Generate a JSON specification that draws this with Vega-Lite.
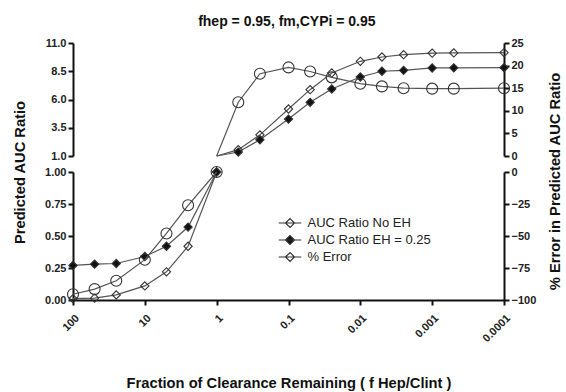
{
  "$schema": "https://vega.github.io/schema/vega-lite/v6.json",
  "background": "white",
  "padding": {"left": 12, "top": 15, "right": 2, "bottom": 5},
  "title": {"text": "fhep = 0.95, fm,CYPi = 0.95", "font": "Liberation Sans", "fontSize": 14, "fontWeight": "bold", "color": "#111", "anchor": "middle", "offset": 8},
  "data": {"values": [
    {"x": 100, "s": "AUC Ratio No EH", "v": 0.01},
    {"x": 50, "s": "AUC Ratio No EH", "v": 0.015},
    {"x": 25, "s": "AUC Ratio No EH", "v": 0.04},
    {"x": 10, "s": "AUC Ratio No EH", "v": 0.11},
    {"x": 5, "s": "AUC Ratio No EH", "v": 0.22},
    {"x": 2.5, "s": "AUC Ratio No EH", "v": 0.42},
    {"x": 1, "s": "AUC Ratio No EH", "v": 1.0},
    {"x": 0.5, "s": "AUC Ratio No EH", "v": 1.56},
    {"x": 0.25, "s": "AUC Ratio No EH", "v": 2.87},
    {"x": 0.1, "s": "AUC Ratio No EH", "v": 5.16},
    {"x": 0.05, "s": "AUC Ratio No EH", "v": 6.87},
    {"x": 0.025, "s": "AUC Ratio No EH", "v": 8.35},
    {"x": 0.01, "s": "AUC Ratio No EH", "v": 9.38},
    {"x": 0.005, "s": "AUC Ratio No EH", "v": 9.76},
    {"x": 0.0025, "s": "AUC Ratio No EH", "v": 9.97},
    {"x": 0.001, "s": "AUC Ratio No EH", "v": 10.1},
    {"x": 0.0005, "s": "AUC Ratio No EH", "v": 10.12},
    {"x": 0.0001, "s": "AUC Ratio No EH", "v": 10.15},
    {"x": 100, "s": "AUC Ratio EH = 0.25", "v": 0.27},
    {"x": 50, "s": "AUC Ratio EH = 0.25", "v": 0.28},
    {"x": 25, "s": "AUC Ratio EH = 0.25", "v": 0.285},
    {"x": 10, "s": "AUC Ratio EH = 0.25", "v": 0.34},
    {"x": 5, "s": "AUC Ratio EH = 0.25", "v": 0.42},
    {"x": 2.5, "s": "AUC Ratio EH = 0.25", "v": 0.57},
    {"x": 1, "s": "AUC Ratio EH = 0.25", "v": 1.0},
    {"x": 0.5, "s": "AUC Ratio EH = 0.25", "v": 1.35},
    {"x": 0.25, "s": "AUC Ratio EH = 0.25", "v": 2.44},
    {"x": 0.1, "s": "AUC Ratio EH = 0.25", "v": 4.27},
    {"x": 0.05, "s": "AUC Ratio EH = 0.25", "v": 5.75},
    {"x": 0.025, "s": "AUC Ratio EH = 0.25", "v": 6.93},
    {"x": 0.01, "s": "AUC Ratio EH = 0.25", "v": 7.99},
    {"x": 0.005, "s": "AUC Ratio EH = 0.25", "v": 8.5},
    {"x": 0.0025, "s": "AUC Ratio EH = 0.25", "v": 8.58},
    {"x": 0.001, "s": "AUC Ratio EH = 0.25", "v": 8.79},
    {"x": 0.0005, "s": "AUC Ratio EH = 0.25", "v": 8.8},
    {"x": 0.0001, "s": "AUC Ratio EH = 0.25", "v": 8.82},
    {"x": 100, "s": "% Error", "v": -95.5},
    {"x": 50, "s": "% Error", "v": -91.5},
    {"x": 25, "s": "% Error", "v": -85},
    {"x": 10, "s": "% Error", "v": -68.5},
    {"x": 5, "s": "% Error", "v": -48},
    {"x": 2.5, "s": "% Error", "v": -26},
    {"x": 1, "s": "% Error", "v": 0},
    {"x": 0.5, "s": "% Error", "v": 11.9},
    {"x": 0.25, "s": "% Error", "v": 18.2},
    {"x": 0.1, "s": "% Error", "v": 19.6},
    {"x": 0.05, "s": "% Error", "v": 18.7},
    {"x": 0.025, "s": "% Error", "v": 17.4},
    {"x": 0.01, "s": "% Error", "v": 16.0},
    {"x": 0.005, "s": "% Error", "v": 15.4},
    {"x": 0.0025, "s": "% Error", "v": 15.0},
    {"x": 0.001, "s": "% Error", "v": 14.9},
    {"x": 0.0005, "s": "% Error", "v": 14.9},
    {"x": 0.0001, "s": "% Error", "v": 15.0}
  ]},
  "bounds": "flush",
  "spacing": 16,
  "resolve": {"scale": {"y": "independent"}},
  "vconcat": [
    {
      "width": 431,
      "height": 113,
      "resolve": {"scale": {"y": "independent"}},
      "layer": [
        {
          "transform": [{"filter": "datum.x <= 1 && datum.s != '% Error'"}],
          "encoding": {
            "x": {"field": "x", "type": "quantitative", "scale": {"type": "log", "domain": [0.0001, 100], "reverse": true}, "axis": null},
            "y": {"field": "v", "type": "quantitative", "scale": {"domain": [1, 11]},
              "axis": {"orient": "left", "values": [1, 3.5, 6, 8.5, 11], "format": ".1f", "title": "Predicted  AUC Ratio", "titleX": -46, "titleY": 129, "titleAngle": 270, "titleBaseline": "bottom", "titleAlign": "center"}}
          },
          "layer": [
            {"mark": {"type": "line", "color": "#555", "strokeWidth": 1.2}, "encoding": {"detail": {"field": "s"}}},
            {"transform": [{"filter": "datum.x < 1"}],
             "mark": {"type": "point", "shape": "M-0.75,0L0,-0.75L0.75,0L0,0.75Z", "stroke": "#333", "strokeWidth": 1.1, "opacity": 1, "size": 121},
             "encoding": {
               "fill": {"field": "s", "type": "nominal", "scale": {"domain": ["AUC Ratio No EH", "AUC Ratio EH = 0.25", "% Error"], "range": ["transparent", "#111", "transparent"]},
                 "legend": {"title": null, "orient": "none", "legendX": 207, "legendY": 170, "symbolSize": 324, "symbolType": "M-1.25,0L1.25,0M-0.5,0L0,-0.5L0.5,0L0,0.5Z", "symbolStrokeColor": "#333", "symbolStrokeWidth": 1.2, "padding": 0, "rowPadding": -2, "labelOffset": 7.5, "labelFont": "Liberation Sans", "labelFontSize": 13, "labelColor": "#222", "symbolOpacity": 1}}
             }}
          ]
        },
        {
          "transform": [{"filter": "datum.x <= 1 && datum.s == '% Error'"}],
          "encoding": {
            "x": {"field": "x", "type": "quantitative", "scale": {"type": "log", "domain": [0.0001, 100], "reverse": true}, "axis": null},
            "y": {"field": "v", "type": "quantitative", "scale": {"domain": [0, 25]},
              "axis": {"orient": "right", "values": [0, 5, 10, 15, 20, 25], "title": "%  Error in Predicted  AUC Ratio", "titleX": 58, "titleY": 138, "titleAngle": 270, "titleBaseline": "bottom", "titleAlign": "center"}}
          },
          "layer": [
            {"mark": {"type": "line", "color": "#555", "strokeWidth": 1.2}, "encoding": {"detail": {"field": "s"}}},
            {"transform": [{"filter": "datum.x < 1"}],
             "mark": {"type": "point", "shape": "circle", "stroke": "#333", "strokeWidth": 1.1, "opacity": 1, "size": 121},
             "encoding": {
               "fill": {"field": "s", "type": "nominal",
                 "legend": {"title": null, "orient": "none", "legendX": 207, "legendY": 170, "symbolSize": 324, "symbolType": "M-1.25,0L1.25,0M-0.5,0L0,-0.5L0.5,0L0,0.5Z", "symbolStrokeColor": "#333", "symbolStrokeWidth": 1.2, "padding": 0, "rowPadding": -2, "labelOffset": 7.5, "labelFont": "Liberation Sans", "labelFontSize": 13, "labelColor": "#222", "symbolOpacity": 1}}
             }}
          ]
        }
      ]
    },
    {
      "width": 431,
      "height": 128,
      "resolve": {"scale": {"y": "independent"}},
      "layer": [
        {
          "transform": [{"filter": "datum.x >= 1 && datum.s != '% Error'"}],
          "encoding": {
            "x": {"field": "x", "type": "quantitative", "scale": {"type": "log", "domain": [0.0001, 100], "reverse": true},
              "axis": {"values": [100, 10, 1, 0.1, 0.01, 0.001, 0.0001], "labelExpr": "format(datum.value, '~g')", "labelAngle": -45, "labelPadding": 7, "title": "Fraction of Clearance Remaining ( f Hep/Clint )", "titlePadding": 32}},
            "y": {"field": "v", "type": "quantitative", "scale": {"domain": [0, 1]},
              "axis": {"orient": "left", "values": [0, 0.25, 0.5, 0.75, 1], "format": ".2f", "title": null}}
          },
          "layer": [
            {"mark": {"type": "line", "color": "#555", "strokeWidth": 1.2}, "encoding": {"detail": {"field": "s"}}},
            {"mark": {"type": "point", "shape": "M-0.75,0L0,-0.75L0.75,0L0,0.75Z", "stroke": "#333", "strokeWidth": 1.1, "opacity": 1, "size": 121},
             "encoding": {
               "fill": {"field": "s", "type": "nominal",
                 "legend": {"title": null, "orient": "none", "legendX": 207, "legendY": 170, "symbolSize": 324, "symbolType": "M-1.25,0L1.25,0M-0.5,0L0,-0.5L0.5,0L0,0.5Z", "symbolStrokeColor": "#333", "symbolStrokeWidth": 1.2, "padding": 0, "rowPadding": -2, "labelOffset": 7.5, "labelFont": "Liberation Sans", "labelFontSize": 13, "labelColor": "#222", "symbolOpacity": 1}}
             }}
          ]
        },
        {
          "transform": [{"filter": "datum.x >= 1 && datum.s == '% Error'"}],
          "encoding": {
            "x": {"field": "x", "type": "quantitative", "scale": {"type": "log", "domain": [0.0001, 100], "reverse": true}},
            "y": {"field": "v", "type": "quantitative", "scale": {"domain": [-100, 0]},
              "axis": {"orient": "right", "values": [-100, -75, -50, -25, 0], "title": null}}
          },
          "layer": [
            {"mark": {"type": "line", "color": "#555", "strokeWidth": 1.2}, "encoding": {"detail": {"field": "s"}}},
            {"mark": {"type": "point", "shape": "circle", "stroke": "#333", "strokeWidth": 1.1, "opacity": 1, "size": 121},
             "encoding": {
               "fill": {"field": "s", "type": "nominal",
                 "legend": {"title": null, "orient": "none", "legendX": 207, "legendY": 170, "symbolSize": 324, "symbolType": "M-1.25,0L1.25,0M-0.5,0L0,-0.5L0.5,0L0,0.5Z", "symbolStrokeColor": "#333", "symbolStrokeWidth": 1.2, "padding": 0, "rowPadding": -2, "labelOffset": 7.5, "labelFont": "Liberation Sans", "labelFontSize": 13, "labelColor": "#222", "symbolOpacity": 1}}
             }}
          ]
        }
      ]
    }
  ],
  "config": {
    "view": {"stroke": null},
    "font": "Liberation Sans",
    "axis": {"domainColor": "#111", "domainWidth": 2, "tickColor": "#111", "tickWidth": 2, "tickSize": 5, "labelFont": "Liberation Sans", "labelFontWeight": "bold", "labelFontSize": 11, "labelColor": "#222", "labelPadding": 2, "titleFont": "Liberation Sans", "titleFontWeight": "bold", "titleFontSize": 14.7, "titleColor": "#111", "grid": false}
  }
}
